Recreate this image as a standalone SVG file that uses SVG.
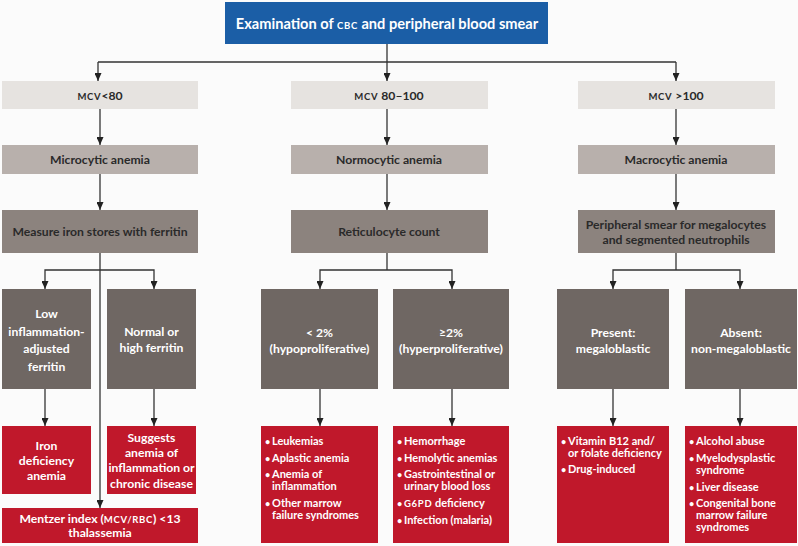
<svg xmlns="http://www.w3.org/2000/svg" width="798" height="546" viewBox="0 0 798 546">
<style>
text{font-family:Lato,"Open Sans","Liberation Sans",sans-serif;font-weight:700;text-anchor:middle}
.t0{fill:#1b5ea6}
.t1{fill:#e6e3e0}
.t2{fill:#b8b0ac}
.t3{fill:#8c837e}
.t4{fill:#6f6763}
.t5{fill:#c0182b}
.w{fill:#ffffff}
.d{fill:#2a2a2a}
.s15{font-size:14.6px}
.s13{font-size:12.2px}
.s12{font-size:11px}
.l{text-anchor:start}
.sc{font-size:9.5px;letter-spacing:0.7px}
.b{font-size:9px}
.c path{fill:none;stroke:#333;stroke-width:1.3;marker-end:url(#a)}
.c path.n{marker-end:none}
</style>
<defs>
<marker id="a" markerUnits="userSpaceOnUse" markerWidth="9" markerHeight="7" refX="8" refY="3.5" orient="auto">
<path d="M0,0 L8,3.5 L0,7 z" fill="#222"/>
</marker>
</defs>
<rect width="798" height="546" fill="#fbfbfb"/>
<g class="c" id="connectors">
<path d="M387,44 V81"/>
<path class="n" d="M98,62 H676"/>
<path d="M98,62 V81"/>
<path d="M676,62 V81"/>
<path d="M100,109 V145"/>
<path d="M387,109 V145"/>
<path d="M676,109 V145"/>
<path d="M100,174 V210"/>
<path d="M387,174 V210"/>
<path d="M676,174 V210"/>
<path d="M100,253 V508"/>
<path d="M100,270 H45 V289"/>
<path d="M100,270 H154 V289"/>
<path class="n" d="M387,253 V270"/>
<path d="M387,270 H320 V289"/>
<path d="M387,270 H452 V289"/>
<path class="n" d="M676,253 V270"/>
<path d="M676,270 H613 V289"/>
<path d="M676,270 H740 V289"/>
<path d="M45,389 V426"/>
<path d="M154,389 V426"/>
<path d="M320,389 V426"/>
<path d="M452,389 V426"/>
<path d="M613,389 V426"/>
<path d="M740,389 V426"/>
</g>
<g id="n-title"><rect class="t0" x="225" y="2" width="323" height="42"/><text class="w s15" x="387" y="29">Examination of <tspan class="sc" font-size="11px">CBC</tspan> and peripheral blood smear</text></g>
<g id="n-mcv1"><rect class="t1" x="2" y="81" width="196" height="28"/><text class="d s13" x="100" y="100"><tspan class="sc">MCV</tspan>&lt;80</text></g>
<g id="n-mcv2"><rect class="t1" x="291" y="81" width="197" height="28"/><text class="d s13" x="389" y="100"><tspan class="sc">MCV</tspan> 80–100</text></g>
<g id="n-mcv3"><rect class="t1" x="578" y="81" width="197" height="28"/><text class="d s13" x="676" y="100"><tspan class="sc">MCV</tspan> &gt;100</text></g>
<g id="n-micro"><rect class="t2" x="2" y="145" width="196" height="29"/><text class="d s13" x="100" y="164">Microcytic anemia</text></g>
<g id="n-normo"><rect class="t2" x="291" y="145" width="197" height="29"/><text class="d s13" x="389" y="164">Normocytic anemia</text></g>
<g id="n-macro"><rect class="t2" x="578" y="145" width="197" height="29"/><text class="d s13" x="676" y="164">Macrocytic anemia</text></g>
<g id="n-iron"><rect class="t3" x="2" y="210" width="196" height="43"/><text class="d s13" x="100" y="236">Measure iron stores with ferritin</text></g>
<g id="n-retic"><rect class="t3" x="291" y="210" width="197" height="43"/><text class="d s13" x="389" y="236">Reticulocyte count</text></g>
<g id="n-smear"><rect class="t3" x="578" y="210" width="197" height="43"/><text class="d s13" x="676" y="229">Peripheral smear for megalocytes</text><text class="d s13" x="676" y="244">and segmented neutrophils</text></g>
<g id="n-low"><rect class="t4" x="2" y="289" width="89" height="100"/><text class="w s13" x="46.5"><tspan x="46.5" y="318">Low</tspan><tspan x="46.5" y="336">inflammation-</tspan><tspan x="46.5" y="353">adjusted</tspan><tspan x="46.5" y="371">ferritin</tspan></text></g>
<g id="n-high"><rect class="t4" x="107" y="289" width="89" height="100"/><text class="w s13" x="151.5"><tspan x="151.5" y="336">Normal or</tspan><tspan x="151.5" y="352">high ferritin</tspan></text></g>
<g id="n-hypo"><rect class="t4" x="261" y="289" width="117" height="100"/><text class="w s13" x="319.5"><tspan x="319.5" y="337">&lt; 2%</tspan><tspan x="319.5" y="353">(hypoproliferative)</tspan></text></g>
<g id="n-hyper"><rect class="t4" x="393" y="289" width="116" height="100"/><text class="w s13" x="451"><tspan x="451" y="337">≥2%</tspan><tspan x="451" y="353">(hyperproliferative)</tspan></text></g>
<g id="n-present"><rect class="t4" x="557" y="289" width="112" height="100"/><text class="w s13" x="613"><tspan x="613" y="337">Present:</tspan><tspan x="613" y="353">megaloblastic</tspan></text></g>
<g id="n-absent"><rect class="t4" x="685" y="289" width="112" height="100"/><text class="w s13" x="741"><tspan x="741" y="337">Absent:</tspan><tspan x="741" y="353">non-megaloblastic</tspan></text></g>
<g id="n-ida"><rect class="t5" x="2" y="426" width="89" height="68"/><text class="w s13" x="46.5"><tspan x="46.5" y="450">Iron</tspan><tspan x="46.5" y="465">deficiency</tspan><tspan x="46.5" y="480">anemia</tspan></text></g>
<g id="n-aoi"><rect class="t5" x="107" y="426" width="89" height="68"/><text class="w s13" x="151.5"><tspan x="151.5" y="442">Suggests</tspan><tspan x="151.5" y="457">anemia of</tspan><tspan x="151.5" y="472">inflammation or</tspan><tspan x="151.5" y="488">chronic disease</tspan></text></g>
<g id="n-mentzer"><rect class="t5" x="2" y="508" width="196" height="35"/><text class="w s13" x="100" y="523">Mentzer index (<tspan class="sc">MCV/RBC</tspan>) &lt;13</text><text class="w s13" x="100" y="537">thalassemia</text></g>
<g id="n-hypo-list"><rect class="t5" x="261" y="426" width="117" height="117"/><text class="w s12 l"><tspan class="b" x="265" y="445">•</tspan><tspan x="272" y="445">Leukemias</tspan><tspan class="b" x="265" y="462">•</tspan><tspan x="272" y="462">Aplastic anemia</tspan><tspan class="b" x="265" y="478">•</tspan><tspan x="272" y="478">Anemia of</tspan><tspan x="272" y="490">inflammation</tspan><tspan class="b" x="265" y="507">•</tspan><tspan x="272" y="507">Other marrow</tspan><tspan x="272" y="519">failure syndromes</tspan></text></g>
<g id="n-hyper-list"><rect class="t5" x="393" y="426" width="116" height="117"/><text class="w s12 l"><tspan class="b" x="397" y="445">•</tspan><tspan x="404" y="445">Hemorrhage</tspan><tspan class="b" x="397" y="462">•</tspan><tspan x="404" y="462">Hemolytic anemias</tspan><tspan class="b" x="397" y="478">•</tspan><tspan x="404" y="478">Gastrointestinal or</tspan><tspan x="404" y="490">urinary blood loss</tspan><tspan class="b" x="397" y="507">•</tspan><tspan x="404" y="507"><tspan class="sc" font-size="8.5px">G6PD</tspan> deficiency</tspan><tspan class="b" x="397" y="524">•</tspan><tspan x="404" y="524">Infection (malaria)</tspan></text></g>
<g id="n-mega-list"><rect class="t5" x="557" y="426" width="112" height="117"/><text class="w s12 l"><tspan class="b" x="561" y="445">•</tspan><tspan x="568" y="445">Vitamin B12 and/</tspan><tspan x="568" y="457">or folate deficiency</tspan><tspan class="b" x="561" y="473">•</tspan><tspan x="568" y="473">Drug-induced</tspan></text></g>
<g id="n-nonmega-list"><rect class="t5" x="685" y="426" width="112" height="117"/><text class="w s12 l"><tspan class="b" x="689" y="445">•</tspan><tspan x="696" y="445">Alcohol abuse</tspan><tspan class="b" x="689" y="462">•</tspan><tspan x="696" y="462">Myelodysplastic</tspan><tspan x="696" y="474">syndrome</tspan><tspan class="b" x="689" y="491">•</tspan><tspan x="696" y="491">Liver disease</tspan><tspan class="b" x="689" y="507">•</tspan><tspan x="696" y="507">Congenital bone</tspan><tspan x="696" y="519">marrow failure</tspan><tspan x="696" y="531">syndromes</tspan></text></g>
</svg>
